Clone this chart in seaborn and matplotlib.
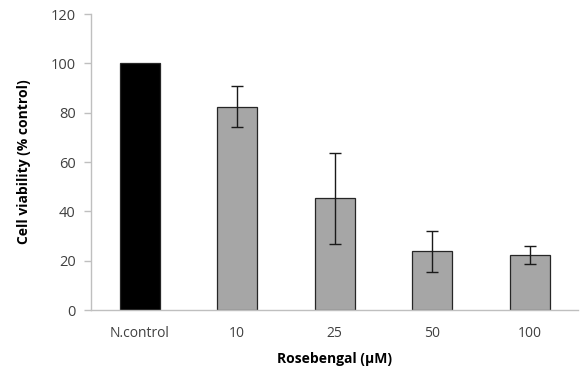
import matplotlib
matplotlib.use("Agg")
import matplotlib.pyplot as plt
import seaborn as sns
import pandas as pd

# Cell viability after Rosebengal treatment
groups = ["N.control", "10", "25", "50", "100"]
viability = [100.0, 82.5, 45.3, 23.8, 22.2]
sd = [0.0, 8.4, 18.5, 8.3, 3.7]
bar_colors = ["#000000", "#a6a6a6", "#a6a6a6", "#a6a6a6", "#a6a6a6"]
y_ticks = [0, 20, 40, 60, 80, 100, 120]

sns.set_style("white")
plt.rcParams["font.family"] = ["Open Sans", "DejaVu Sans"]

df = pd.DataFrame({"group": groups, "viability": viability})

fig = plt.figure(figsize=(5.8, 3.7), dpi=100)
ax = fig.add_axes([0.157, 0.162, 0.84, 0.800])

sns.barplot(data=df, x="group", y="viability", hue="group",
            palette=dict(zip(groups, bar_colors)), order=groups,
            width=0.41, edgecolor="#262626", linewidth=0.9,
            legend=False, errorbar=None, ax=ax)

xpos = list(range(len(groups)))
ax.errorbar(xpos[1:], viability[1:], yerr=sd[1:], fmt="none",
            ecolor="#1a1a1a", elinewidth=1.0, capsize=4, capthick=1.0)

ax.set_ylim(0, 120)
ax.set_yticks(y_ticks)
ax.set_xlim(-0.5, len(groups) - 0.5)

for side in ["top", "right"]:
    ax.spines[side].set_visible(False)
for side in ["left", "bottom"]:
    ax.spines[side].set_color("#bfbfbf")
    ax.spines[side].set_linewidth(1.0)

ax.tick_params(axis="y", which="both", left=True, length=5, width=1.0,
               color="#bfbfbf", labelsize=10.5, labelcolor="#404040", pad=6)
ax.tick_params(axis="x", bottom=False, labelsize=10, labelcolor="#404040", pad=8)

ax.set_xlabel("Rosebengal (\u03bcM)", fontsize=10, fontweight="bold",
              color="#000000", labelpad=8)
ax.set_ylabel("Cell viability (% control)", fontsize=10, fontweight="bold",
              color="#000000", labelpad=14)

fig.savefig("out.png", dpi=100, facecolor="white")
